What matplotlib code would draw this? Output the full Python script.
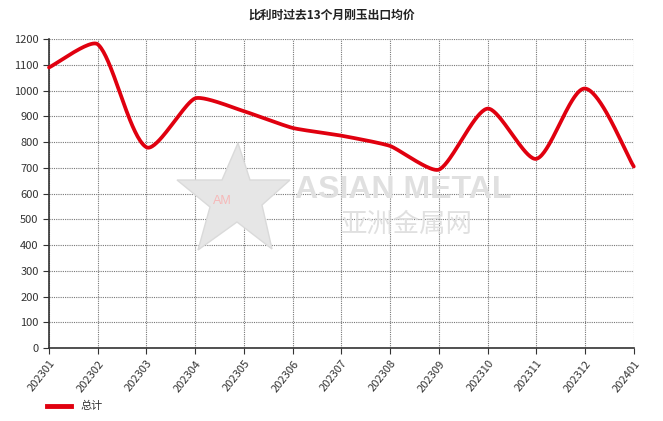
import numpy as np
import matplotlib
matplotlib.use("Agg")
import matplotlib.pyplot as plt
from matplotlib.patches import Polygon

plt.rcParams['font.family'] = ['Noto Sans CJK SC', 'DejaVu Sans']

months = ["202301", "202302", "202303", "202304", "202305", "202306", "202307",
          "202308", "202309", "202310", "202311", "202312", "202401"]
values = [1090, 1180, 780, 970, 920, 855, 825, 785, 693, 930, 735, 1008, 705]
series_name = "总计"
title = "比利时过去13个月刚玉出口均价"


def smooth_display(ax, x, y, a=0.25, n=40):
    """Bezier spline through the points, built in display space."""
    P = ax.transData.transform(np.column_stack([x, y]))
    N = len(P)
    T = np.zeros_like(P)
    for i in range(N):
        if i == 0:
            d = P[1] - P[0]
        elif i == N - 1:
            d = P[-1] - P[-2]
        else:
            d = P[i + 1] - P[i - 1]
        T[i] = d / np.linalg.norm(d)
    out = []
    t = np.linspace(0, 1, n, endpoint=False)[:, None]
    for i in range(N - 1):
        L = np.linalg.norm(P[i + 1] - P[i])
        b0 = P[i]; b1 = P[i] + T[i] * a * L
        b2 = P[i + 1] - T[i + 1] * a * L; b3 = P[i + 1]
        seg = ((1 - t)**3) * b0 + 3 * ((1 - t)**2) * t * b1 + 3 * (1 - t) * t**2 * b2 + t**3 * b3
        out.append(seg)
    out.append(P[-1:])
    D = np.vstack(out)
    return ax.transData.inverted().transform(D)


fig = plt.figure(figsize=(6.63, 4.21), dpi=100)
ax = fig.add_axes([0.0739, 0.1734, 0.882, 0.7336])

x = np.arange(len(months))
ax.set_xlim(0, len(months) - 1)
ax.set_ylim(0, 1200)
S = smooth_display(ax, x, values, a=0.17)
ax.plot(S[:, 0], S[:, 1], color='#e0000f', lw=2.7, solid_capstyle='round', zorder=3, clip_on=False)

ax.set_yticks(np.arange(0, 1201, 100))
ax.set_xticks(x)
ax.set_xticklabels(months, rotation=52, ha='right', rotation_mode='anchor', fontsize=8, color='#333333')
ax.tick_params(axis='y', labelsize=8, labelcolor='#333333', length=4, color='#333333')
ax.tick_params(axis='x', length=4, color='#333333')
ax.set_axisbelow(True)
ax.grid(True, color='#777777', linestyle=(0, (1, 1)), lw=0.8, zorder=2)
for s in ['top', 'right']:
    ax.spines[s].set_visible(False)
for s in ['left', 'bottom']:
    ax.spines[s].set_color('#333333')
    ax.spines[s].set_linewidth(1.2)

fig.text(0.5, 0.965, title, ha='center', va='center', fontsize=8.5, fontweight='bold', color='#222222')

# watermark (in figure pixel coords, drawn under the grid)
def fp(px, py):
    return (px / 663, 1 - py / 421)

star_px = [(238, 143), (250, 180), (290, 180), (262, 205), (272, 249),
           (237, 222), (198, 250), (210, 207), (177, 180), (222, 180)]
ax.add_patch(Polygon([fp(*p) for p in star_px], closed=True, transform=fig.transFigure,
                     facecolor='#e6e6e6', edgecolor='#dadada', lw=1.0, zorder=1, clip_on=False))
ax.text(*fp(222, 201), "AM", fontsize=9, color='#f6b8b8', ha='center', va='center',
        transform=fig.transFigure, zorder=1.2, family='Liberation Sans')
ax.text(*fp(403, 190), "ASIAN METAL", fontsize=23, fontweight='bold', color='#e0e0e0',
        ha='center', va='center', transform=fig.transFigure, zorder=1.2, family='Liberation Sans')
ax.text(*fp(407, 224), "亚洲金属网", fontsize=19, color='#e0e0e0', ha='center', va='center',
        transform=fig.transFigure, zorder=1.2)

# legend
fig.lines.append(plt.Line2D([47/663, 71/663], [1-406/421, 1-406/421], transform=fig.transFigure,
                            color='#e0000f', lw=3.5))
fig.text(80/663, 1-406/421, series_name, fontsize=8, va='center', ha='left', color='#333333')

fig.savefig("out.png", dpi=100)
